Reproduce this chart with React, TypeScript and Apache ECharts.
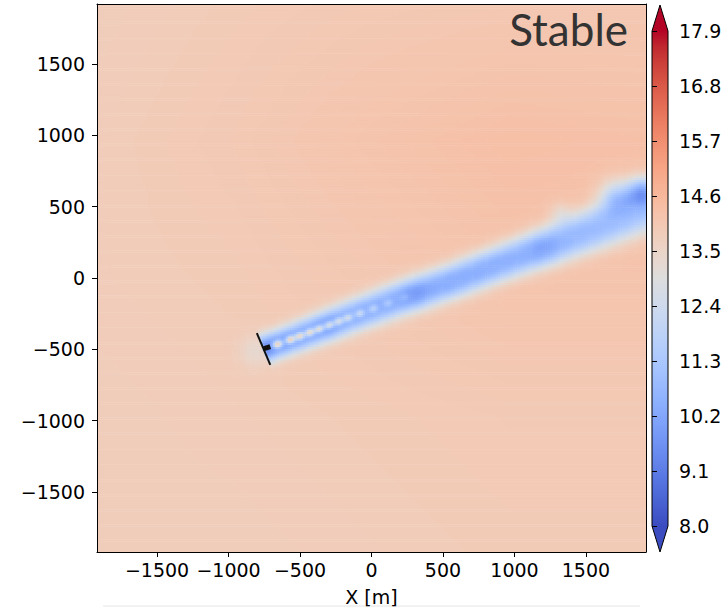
import { useEffect, useRef } from "react";
import * as echarts from "echarts";

// ---------- data ----------
const xTicks = [-1500, -1000, -500, 0, 500, 1000, 1500];
const yTicks = [-1500, -1000, -500, 0, 500, 1000, 1500];
const cbarTicks = [8.0, 9.1, 10.2, 11.3, 12.4, 13.5, 14.6, 15.7, 16.8, 17.9];
const SPEED_MIN = 8.0;
const SPEED_MAX = 17.9;
const EXTENT = 1920;
const CELL = 15;

// coarse background wind speed (rows: bgY bottom -> top, cols: bgX left -> right)
const bgX = [-1920, -960, 0, 960, 1920];
const bgY = [-1920, -960, 0, 960, 1920];
const bgSpeed = [
  [13.82, 13.82, 13.87, 13.92, 13.92],
  [13.82, 13.87, 13.92, 13.97, 13.97],
  [13.87, 13.92, 14.05, 14.2, 14.2],
  [13.87, 14.0, 14.2, 14.35, 14.3],
  [13.82, 13.92, 14.0, 14.05, 14.05],
];

// wake centreline, half-width and core speed
const wakeCX = [-755, -450, -150, 200, 550, 900, 1250, 1600, 1920];
const wakeCY = [-497, -385, -270, -142, -25, 105, 230, 365, 500];
const wakeHalfWidth = [120, 130, 140, 148, 152, 158, 170, 190, 210];
const wakeCoreSpeed = [9.9, 10.1, 10.4, 10.4, 10.4, 10.5, 10.7, 10.9, 11.1];

// light spots along the near-wake centreline (distance from hub, speed gain)
const spotDist = [105, 200, 270, 345, 415, 490, 560, 630, 720, 820, 930, 1050];
const spotGain = [3.9, 3.7, 3.4, 3.2, 3.0, 2.8, 2.5, 2.2, 1.8, 1.4, 1.0, 0.6];

// local patches (induction zone, meander lobes, darker pockets)
const blobX = [-810, 1706, 1880, 1320, 1200, 300, -300];
const blobY = [-510, 585, 615, 460, 215, -110, -330];
const blobR = [80, 80, 70, 55, 80, 70, 60];
const blobDelta = [-0.6, -1.8, -2.2, -0.7, -0.5, -0.5, -0.4];

// turbine drawing
const rotorX = [-802, -708];
const rotorY = [-386, -608];
const nacelleX = [-757, -708];
const nacelleY = [-497, -481];

// coolwarm colour map
const coolwarm = [
  [59, 76, 192], [68, 90, 204], [77, 104, 215], [87, 117, 225], [98, 130, 234],
  [108, 142, 241], [119, 154, 247], [130, 165, 251], [141, 176, 254], [152, 185, 255],
  [163, 194, 255], [174, 201, 253], [184, 208, 249], [194, 213, 244], [204, 217, 238],
  [213, 219, 230], [221, 221, 221], [229, 216, 209], [236, 211, 197], [241, 204, 185],
  [245, 196, 173], [247, 187, 160], [247, 177, 148], [247, 166, 135], [244, 154, 123],
  [241, 141, 111], [236, 127, 99], [229, 112, 88], [222, 96, 77], [213, 80, 66],
  [203, 62, 56], [192, 40, 47], [180, 4, 38],
].map((c) => `rgb(${c[0]},${c[1]},${c[2]})`);

// ---------- field construction ----------
function interpIdx(arr: number[], v: number) {
  if (v <= arr[0]) return [0, 0];
  for (let i = 0; i < arr.length - 1; i++) {
    if (v <= arr[i + 1]) return [i, (v - arr[i]) / (arr[i + 1] - arr[i])];
  }
  return [arr.length - 2, 1];
}

function background(x: number, y: number) {
  const [i, tx] = interpIdx(bgX, x);
  const [j, ty] = interpIdx(bgY, y);
  const a = bgSpeed[j][i], b = bgSpeed[j][i + 1];
  const c = bgSpeed[j + 1][i], d = bgSpeed[j + 1][i + 1];
  return (a * (1 - tx) + b * tx) * (1 - ty) + (c * (1 - tx) + d * tx) * ty;
}

const segLen: number[] = [];
const segStart: number[] = [0];
for (let k = 0; k < wakeCX.length - 1; k++) {
  const L = Math.hypot(wakeCX[k + 1] - wakeCX[k], wakeCY[k + 1] - wakeCY[k]);
  segLen.push(L);
  segStart.push(segStart[k] + L);
}

function alongProfile(arr: number[], s: number) {
  if (s <= 0) return arr[0];
  for (let k = 0; k < segLen.length; k++) {
    if (s <= segStart[k + 1]) {
      const t = (s - segStart[k]) / segLen[k];
      return arr[k] * (1 - t) + arr[k + 1] * t;
    }
  }
  return arr[arr.length - 1];
}

function wakeCoords(x: number, y: number) {
  let best = Infinity, bs = 0, bn = 0;
  const nSeg = segLen.length;
  for (let k = 0; k < nSeg; k++) {
    const ax = wakeCX[k], ay = wakeCY[k];
    const dx = wakeCX[k + 1] - ax, dy = wakeCY[k + 1] - ay;
    const L = segLen[k];
    let t = ((x - ax) * dx + (y - ay) * dy) / (L * L);
    if (k > 0) t = Math.max(0, t);
    if (k < nSeg - 1) t = Math.min(1, t);
    const px = ax + t * dx, py = ay + t * dy;
    const d = Math.hypot(x - px, y - py);
    if (d < best) {
      best = d;
      bs = segStart[k] + t * L;
      bn = (-(x - ax) * dy + (y - ay) * dx) / L;
    }
  }
  return [bs, bn];
}

function speedAt(x: number, y: number) {
  const bg = background(x, y);
  let v = bg;
  const [s, n] = wakeCoords(x, y);
  const start = Math.min(1, Math.max(0, (s + 8) / 20));
  if (start > 0) {
    const hw = alongProfile(wakeHalfWidth, s);
    const core = alongProfile(wakeCoreSpeed, s);
    const r = Math.abs(n) / hw;
    const f = Math.exp(-0.693 * Math.pow(r / 0.68, 2.5));
    v = bg - (bg - core) * f * start;
    for (let k = 0; k < spotDist.length; k++) {
      const da = s - spotDist[k];
      if (Math.abs(da) > 120) continue;
      v += spotGain[k] * Math.exp(-(da * da) / (2 * 24 * 24) - (n * n) / (2 * 18 * 18));
    }
  }
  for (let k = 0; k < blobX.length; k++) {
    const dx = x - blobX[k], dy = y - blobY[k];
    v += blobDelta[k] * Math.exp(-(dx * dx + dy * dy) / (2 * blobR[k] * blobR[k]));
  }
  return v;
}

function buildRuns() {
  const runs: number[][] = [];
  const n = Math.round((2 * EXTENT) / CELL);
  const Q = 0.03;
  for (let j = 0; j < n; j++) {
    const yc = -EXTENT + (j + 0.5) * CELL;
    let runStart = -EXTENT;
    let runVal = NaN;
    for (let i = 0; i < n; i++) {
      const xc = -EXTENT + (i + 0.5) * CELL;
      const q = Math.round(speedAt(xc, yc) / Q) * Q;
      if (i === 0) {
        runVal = q;
        continue;
      }
      if (q !== runVal) {
        const x0 = -EXTENT + i * CELL;
        runs.push([runStart, x0, yc, runVal]);
        runStart = x0;
        runVal = q;
      }
    }
    runs.push([runStart, EXTENT, yc, runVal]);
  }
  return runs;
}

const fmtMinus = (v: number) => (v < 0 ? "\u2212" + Math.abs(v) : String(v));

export default function App() {
  const ref = useRef<HTMLDivElement>(null);
  useEffect(() => {
    document.body.style.margin = "0";
    if (!ref.current) return;
    const chart = echarts.init(ref.current, undefined, { renderer: "svg" });
    const runs = buildRuns();
    const stops = coolwarm.map((c, i) => ({ offset: i / (coolwarm.length - 1), color: c }));
    const font = "DejaVu Sans";
    const cbarSpan = SPEED_MAX - SPEED_MIN;

    chart.setOption({
      animation: false,
      backgroundColor: "#fff",
      grid: [
        { left: 97, top: 4, width: 549, height: 548, containLabel: false, outerBoundsMode: "none" },
        { left: 652, top: 31, width: 16, height: 495, containLabel: false, outerBoundsMode: "none" },
      ],
      visualMap: {
        show: false,
        type: "continuous",
        seriesIndex: 0,
        dimension: 3,
        min: SPEED_MIN,
        max: SPEED_MAX,
        inRange: { color: coolwarm },
      },
      xAxis: [
        {
          gridIndex: 0, type: "value", min: -EXTENT, max: EXTENT, z: 10,
          name: "X [m]", nameLocation: "middle", nameGap: 35,
          nameTextStyle: { fontFamily: font, fontSize: 19, color: "#000" },
          axisLine: { show: true, onZero: false, lineStyle: { color: "#000", width: 1 } },
          axisTick: { show: true, length: 5, inside: false, customValues: xTicks, lineStyle: { color: "#000" } },
          axisLabel: { show: true, customValues: xTicks, formatter: fmtMinus, fontFamily: font, fontSize: 19, color: "#000", margin: 8 },
          splitLine: { show: false },
        },
        {
          gridIndex: 0, type: "value", position: "top", min: -EXTENT, max: EXTENT, z: 10,
          axisLine: { show: true, onZero: false, lineStyle: { color: "#000", width: 1 } },
          axisTick: { show: false }, axisLabel: { show: false }, splitLine: { show: false },
        },
        {
          gridIndex: 1, type: "value", min: 0, max: 1, show: false,
        },
      ],
      yAxis: [
        {
          gridIndex: 0, type: "value", min: -EXTENT, max: EXTENT, z: 10,
          axisLine: { show: true, onZero: false, lineStyle: { color: "#000", width: 1 } },
          axisTick: { show: true, length: 5, inside: false, customValues: yTicks, lineStyle: { color: "#000" } },
          axisLabel: { show: true, customValues: yTicks, formatter: fmtMinus, fontFamily: font, fontSize: 19, color: "#000", margin: 12 },
          splitLine: { show: false },
        },
        {
          gridIndex: 0, type: "value", position: "right", min: -EXTENT, max: EXTENT, z: 10,
          axisLine: { show: true, onZero: false, lineStyle: { color: "#000", width: 1 } },
          axisTick: { show: false }, axisLabel: { show: false }, splitLine: { show: false },
        },
        {
          gridIndex: 1, type: "value", position: "right", min: 0, max: cbarSpan, z: 10,
          axisLine: { show: false },
          axisTick: { show: true, length: 5, inside: false, customValues: cbarTicks.map((t) => t - SPEED_MIN), lineStyle: { color: "#000" } },
          axisLabel: {
            show: true, customValues: cbarTicks.map((t) => t - SPEED_MIN),
            formatter: (v: number) => (v + SPEED_MIN).toFixed(1),
            fontFamily: font, fontSize: 19, color: "#000", margin: 11,
          },
          splitLine: { show: false },
        },
      ],
      series: [
        {
          type: "custom",
          xAxisIndex: 0,
          yAxisIndex: 0,
          data: runs,
          dimensions: ["x0", "x1", "y", "speed"],
          encode: { x: [0, 1], y: 2 },
          progressive: 0,
          silent: true,
          renderItem: (_p: any, api: any) => {
            const x0 = api.value(0), x1 = api.value(1), yc = api.value(2);
            const p0 = api.coord([x0, yc + CELL / 2]);
            const p1 = api.coord([x1, yc - CELL / 2]);
            return {
              type: "rect",
              shape: { x: p0[0], y: p0[1], width: p1[0] - p0[0] + 0.5, height: p1[1] - p0[1] + 0.5 },
              style: { fill: api.visual("color") },
            };
          },
        },
        {
          type: "custom",
          xAxisIndex: 2,
          yAxisIndex: 2,
          data: [[0, 0]],
          silent: true,
          renderItem: (_p: any, api: any) => {
            const pb = api.coord([0, 0]);
            const pt = api.coord([1, cbarSpan]);
            const xl = pb[0], xr = pt[0], yb = pb[1], yt = pt[1], xm = (xl + xr) / 2;
            const tri = 26;
            return {
              type: "group",
              children: [
                { type: "rect", shape: { x: xl, y: yt, width: xr - xl, height: yb - yt }, style: { fill: new echarts.graphic.LinearGradient(0, 1, 0, 0, stops) } },
                { type: "polygon", shape: { points: [[xl, yt], [xr, yt], [xm, yt - tri]] }, style: { fill: coolwarm[coolwarm.length - 1] } },
                { type: "polygon", shape: { points: [[xl, yb], [xr, yb], [xm, yb + tri]] }, style: { fill: coolwarm[0] } },
                {
                  type: "polygon",
                  shape: { points: [[xl, yt], [xm, yt - tri], [xr, yt], [xr, yb], [xm, yb + tri], [xl, yb]] },
                  style: { fill: "none", stroke: "#000", lineWidth: 1 },
                },
              ],
            };
          },
        },
        {
          type: "line",
          xAxisIndex: 0,
          yAxisIndex: 0,
          data: rotorX.map((x, i) => [x, rotorY[i]]),
          symbol: "none",
          silent: true,
          z: 5,
          lineStyle: { color: "#111", width: 2 },
        },
        {
          type: "line",
          xAxisIndex: 0,
          yAxisIndex: 0,
          data: nacelleX.map((x, i) => [x, nacelleY[i]]),
          symbol: "none",
          silent: true,
          z: 5,
          lineStyle: { color: "#111", width: 5 },
        },
      ],
      graphic: [
        {
          type: "text",
          z: 20,
          style: { text: "Stable", x: 628, y: 29, align: "right", verticalAlign: "middle", fontFamily: "Lato", fontSize: 44, fill: "#333" },
        },
        {
          type: "line",
          z: 1,
          shape: { x1: 103, y1: 606, x2: 640, y2: 606 },
          style: { stroke: "#e4e4e4", lineWidth: 1 },
        },
      ],
    });
    return () => chart.dispose();
  }, []);
  return <div ref={ref} style={{ width: 728, height: 612 }} />;
}
